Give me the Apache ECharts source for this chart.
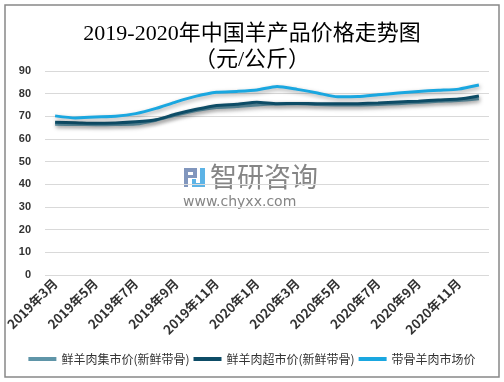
<!DOCTYPE html>
<html><head><meta charset="utf-8">
<script src="https://cdn.jsdelivr.net/npm/echarts@6/dist/echarts.min.js"></script>
<style>html,body{margin:0;padding:0;background:#fff}#c{width:504px;height:382px}</style>
</head><body><div id="c"></div>
<script>
const categories = ['2019年3月','2019年4月','2019年5月','2019年6月','2019年7月','2019年8月','2019年9月','2019年10月','2019年11月','2019年12月','2020年1月','2020年2月','2020年3月','2020年4月','2020年5月','2020年6月','2020年7月','2020年8月','2020年9月','2020年10月','2020年11月','2020年12月'];
const marketPrice = [66.5,66.4,66.3,66.4,66.6,68.3,70.6,72.6,73.9,74.3,75.0,75.4,75.5,75.2,75.0,75.0,75.2,75.6,76.1,76.6,77.0,77.8];
const superPrice  = [67.4,67.2,66.9,67.1,67.6,68.5,71.0,73.1,74.8,75.3,76.2,75.6,75.7,75.6,75.5,75.6,75.9,76.3,76.7,77.2,77.6,79.0];
const boneMarket  = [70.2,69.3,69.7,70.0,71.2,73.5,76.4,78.9,80.6,81.0,81.6,83.2,81.9,80.3,78.6,78.7,79.5,80.3,81.0,81.5,82.0,83.8];
const yTicks = [0,10,20,30,40,50,60,70,80,90];

const chart = echarts.init(document.getElementById('c'));
const shadow = {shadowColor:'rgba(0,0,0,0.35)', shadowBlur:4, shadowOffsetX:1, shadowOffsetY:2};
function line(name, data, color){
  return {name, type:'line', data, symbol:'none', smooth:0.2,
    lineStyle:Object.assign({width:3, color}, shadow), itemStyle:{color}};
}
const gb = '#8196bd', lb = '#5cb3e6';
chart.setOption({
  animation:false,
  title:{text:'2019-2020年中国羊产品价格走势图\n（元/公斤）', left:'center', top:16,
    textStyle:{fontFamily:'Liberation Serif, Noto Sans CJK SC', fontSize:22, fontWeight:'normal', color:'#000', lineHeight:26}},
  graphic:[
    {type:'rect', shape:{x:5, y:5, width:494, height:372}, style:{fill:'none', stroke:'#888', lineWidth:1.5}},
    {type:'group', children:[
      {type:'rect', shape:{x:184, y:168, width:13, height:4}, style:{fill:gb}},
      {type:'rect', shape:{x:184, y:168, width:4, height:19}, style:{fill:gb}},
      {type:'rect', shape:{x:193, y:168, width:4, height:9}, style:{fill:gb}},
      {type:'rect', shape:{x:188, y:175, width:9, height:3}, style:{fill:gb}},
      {type:'rect', shape:{x:200, y:168, width:5, height:19}, style:{fill:lb}},
      {type:'rect', shape:{x:192, y:183, width:13, height:4}, style:{fill:lb}},
      {type:'rect', shape:{x:192, y:179, width:4, height:4}, style:{fill:lb}}
    ]},
    {type:'text', left:210, top:163, style:{text:'智研咨询', fontSize:27, fontFamily:'Noto Sans CJK SC', fill:'#858585'}},
    {type:'text', left:183, top:195, style:{text:'www.chyxx.com', fontSize:14, fontFamily:'DejaVu Sans', fill:'#858585', letterSpacing:1.3}}
  ],
  legend:{bottom:12, left:'center', itemWidth:28, itemHeight:4, itemGap:4, icon:'rect',
    textStyle:{fontFamily:'Noto Sans CJK SC', fontSize:12, color:'#333'}},
  grid:{left:45, right:15, top:71, bottom:107},
  xAxis:{type:'category', data:categories, boundaryGap:true,
    axisLine:{show:false}, axisTick:{show:false},
    axisLabel:{interval:1, rotate:45, fontSize:13, fontWeight:'bold', color:'#333', fontFamily:'Noto Sans CJK SC', margin:6}},
  yAxis:{type:'value', min:0, max:90, interval:10,
    axisLine:{show:false}, axisTick:{show:false},
    splitLine:{lineStyle:{color:'#d9d9d9'}},
    axisLabel:{fontSize:11, color:'#333', fontWeight:'bold', margin:14, fontFamily:'Liberation Sans'}},
  series:[
    line('鲜羊肉集市价(新鲜带骨)', marketPrice, '#5f95a8'),
    line('鲜羊肉超市价(新鲜带骨)', superPrice, '#0d4c66'),
    line('带骨羊肉市场价', boneMarket, '#1aa7e0')
  ]
});
</script></body></html>
